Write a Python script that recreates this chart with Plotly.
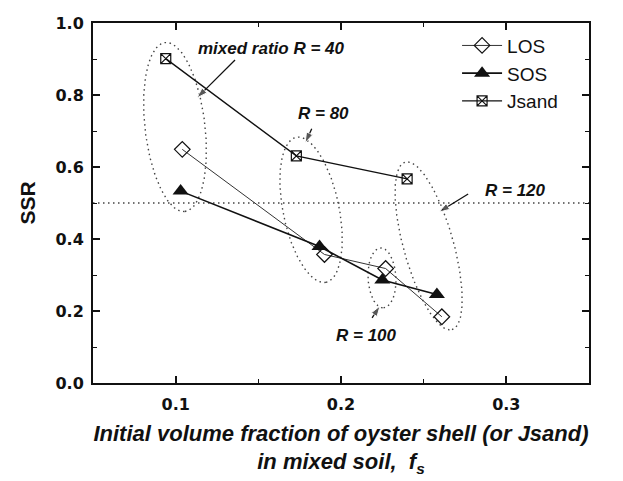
import numpy as np
import plotly.graph_objects as go

# ---------------- data ----------------
los_x = [0.104, 0.190, 0.227, 0.261]
los_y = [0.649, 0.357, 0.318, 0.184]
sos_x = [0.103, 0.187, 0.225, 0.258]
sos_y = [0.533, 0.379, 0.286, 0.246]
jsand_x = [0.094, 0.173, 0.240]
jsand_y = [0.901, 0.631, 0.567]

ref_level = 0.5  # dotted reference line (SSR = 0.5)

# group ellipses: label, centre (x, y) in data units
group_labels = ["R = 40", "R = 80", "R = 100", "R = 120"]
group_cx = [0.0996, 0.1819, 0.2248, 0.2530]
group_cy = [0.711, 0.481, 0.292, 0.381]

# annotation texts and positions (data units)
ann_text = ["mixed ratio R = 40", "R = 80", "R = 120", "R = 100"]
ann_tx = [0.1577, 0.1897, 0.3053, 0.2152]
ann_ty = [0.928, 0.750, 0.536, 0.133]
arr_tail_x = [0.1359, 0.1823, 0.2769, 0.2188]
arr_tail_y = [0.897, 0.706, 0.525, 0.181]
arr_head_x = [0.1129, 0.1783, 0.2593, 0.2236]
arr_head_y = [0.792, 0.667, 0.475, 0.214]

x_ticks = [0.1, 0.2, 0.3]
y_ticks = [0.0, 0.2, 0.4, 0.6, 0.8, 1.0]

# ---------------- style ----------------
W, H = 623, 481
M = dict(l=93, r=34, t=23, b=98)
XR = [0.05, 0.35]
YR = [0.0, 1.0]
px_x = (W - M["l"] - M["r"]) / (XR[1] - XR[0])
px_y = (H - M["t"] - M["b"]) / (YR[1] - YR[0])
# ellipse shape (pixels): semi-major, semi-minor, tilt (deg, clockwise from vertical)
ell_a = [85, 74, 30, 87]
ell_b = [30, 28, 14, 25]
ell_tilt = [6.7, 11.6, 3.0, 15.6]

BOLD = "Liberation Sans, Arial, sans-serif"
TICKF = "DejaVu Sans, Arial Black, sans-serif"
INK = "#111111"
DOT = "#444444"
DOTDASH = "1.5px,3.5px"

fig = go.Figure()

t = np.linspace(0, 2 * np.pi, 240)
for cx, cy, a, b, tilt in zip(group_cx, group_cy, ell_a, ell_b, ell_tilt):
    th = np.deg2rad(tilt)
    dx = a * np.cos(t) * np.sin(th) + b * np.sin(t) * np.cos(th)
    dy = a * np.cos(t) * np.cos(th) - b * np.sin(t) * np.sin(th)
    fig.add_trace(go.Scatter(
        x=cx + dx / px_x, y=cy - dy / px_y, mode="lines",
        line=dict(color=DOT, width=1.4, dash=DOTDASH),
        showlegend=False, hoverinfo="skip"))

# arrows (line + arrow-head marker oriented along the segment)
for hx, hy, tx, ty in zip(arr_head_x, arr_head_y, arr_tail_x, arr_tail_y):
    fig.add_trace(go.Scatter(
        x=[tx, hx], y=[ty, hy], mode="lines+markers",
        line=dict(color=INK, width=1.3),
        marker=dict(symbol=["circle", "arrow"], size=[0, 11], color=INK,
                    angleref="previous", standoff=0),
        showlegend=False, hoverinfo="skip"))

fig.add_trace(go.Scatter(
    x=los_x, y=los_y, mode="lines+markers", name="LOS",
    line=dict(color="#333333", width=1),
    marker=dict(symbol="diamond-open", size=12, color=INK, line=dict(width=1.2))))
fig.add_trace(go.Scatter(
    x=sos_x, y=sos_y, mode="lines+markers", name="SOS",
    line=dict(color=INK, width=1.6),
    marker=dict(symbol="triangle-up", size=14, color=INK)))
fig.add_trace(go.Scatter(
    x=jsand_x, y=jsand_y, mode="lines+markers", name="Jsand",
    line=dict(color=INK, width=1.4),
    marker=dict(symbol="square-x-open", size=10, color=INK, line=dict(width=1.2))))

fig.add_shape(type="line", xref="paper", yref="y", x0=0, x1=1,
              y0=ref_level, y1=ref_level,
              line=dict(color=DOT, width=1.4, dash=DOTDASH), layer="below")

for txt, x, y in zip(ann_text, ann_tx, ann_ty):
    fig.add_annotation(x=x, y=y, text="<b><i>%s</i></b>" % txt, showarrow=False,
                       font=dict(family=BOLD, size=17, color=INK),
                       xanchor="center", yanchor="middle")

axis_common = dict(
    showline=True, linewidth=2, linecolor=INK, mirror="allticks",
    ticks="inside", ticklen=7, tickwidth=1.5, tickcolor=INK,
    showgrid=False, zeroline=False, tickformat=".1f",
    tickfont=dict(family=TICKF, size=16, color=INK, weight="bold"),
)
fig.update_xaxes(range=XR, tickvals=x_ticks, ticklabelstandoff=6,
                 minor=dict(tickvals=[0.15, 0.25], ticks="inside", ticklen=4,
                            tickwidth=1.2, tickcolor=INK),
                 title=dict(text="<b><i>Initial volume fraction of oyster shell (or Jsand)<br>"
                                 "in mixed soil,  f<sub>s</sub></i></b>",
                            font=dict(family=BOLD, size=22, color=INK), standoff=12),
                 **axis_common)
fig.update_yaxes(range=YR, tickvals=y_ticks, ticklabelstandoff=4,
                 minor=dict(dtick=0.1, ticks="inside", ticklen=4,
                            tickwidth=1.2, tickcolor=INK),
                 title=dict(text="<b>SSR</b>",
                            font=dict(family=BOLD, size=21, color=INK), standoff=14),
                 **axis_common)

fig.update_layout(
    width=W, height=H, margin=M,
    paper_bgcolor="white", plot_bgcolor="white",
    showlegend=True,
    legend=dict(x=0.734, y=0.99, xanchor="left", yanchor="top",
                bgcolor="rgba(0,0,0,0)", font=dict(family=BOLD, size=19, color=INK),
                tracegroupgap=0, itemwidth=40),
)

fig.write_html("out.html")
